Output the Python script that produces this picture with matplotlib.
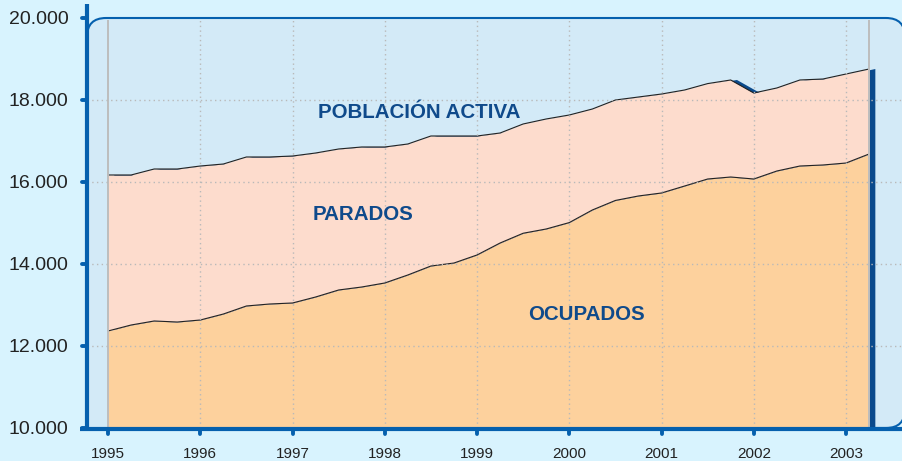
import numpy as np
import matplotlib
matplotlib.use('Agg')
import matplotlib.pyplot as plt
from matplotlib.patches import FancyBboxPatch, Polygon, Rectangle
import matplotlib.transforms as mtransforms

plt.rcParams['font.family'] = ['Liberation Sans', 'DejaVu Sans']

# ---- data (thousands of persons, quarterly 1995-I .. 2003-II) ----
start_year = 1995
n_quarters = 34
ocupados = [12366, 12512, 12610, 12585, 12634, 12780, 12976, 13024, 13049, 13195,
            13366, 13439, 13537, 13732, 13951, 14024, 14220, 14512, 14750, 14854,
            15010, 15317, 15550, 15659, 15732, 15902, 16073, 16122, 16073, 16268,
            16390, 16415, 16463, 16683]
activa = [16171, 16171, 16317, 16317, 16390, 16439, 16610, 16610, 16634, 16707,
          16805, 16854, 16854, 16927, 17122, 17122, 17122, 17195, 17415, 17537,
          17634, 17780, 18000, 18073, 18146, 18244, 18400, 18488, 18171, 18293,
          18488, 18512, 18634, 18756]
year_ticks = [1995, 1996, 1997, 1998, 1999, 2000, 2001, 2002, 2003]
y_ticks = [10000, 12000, 14000, 16000, 18000, 20000]
y_labels = ['10.000', '12.000', '14.000', '16.000', '18.000', '20.000']
labels = ['POBLACIÓN ACTIVA', 'PARADOS', 'OCUPADOS']

x = start_year + np.arange(n_quarters) / 4.0

# ---- colours ----
outer_bg = '#d8f3fe'
plot_bg = '#d3eaf7'
blue = '#0560ae'
dark_blue = '#0a4a8c'
c_ocup = '#fdd19d'
c_par = '#fddccd'
c_text = '#0f4a8b'
grid_c = '#b9b9b9'

W, H = 902, 461
fig = plt.figure(figsize=(W / 100, H / 100), dpi=100, facecolor=outer_bg)
ax = fig.add_axes([87 / W, 33 / H, 815 / W, 410 / H])
ax.set_xlim(1994.772, 2003.607)
ax.set_ylim(10000, 20000)
ax.patch.set_visible(False)
for s in ax.spines.values():
    s.set_visible(False)

# rounded plot frame
frame = FancyBboxPatch((0.87, 0.33), 8.18, 4.10,
                       boxstyle='round,pad=0,rounding_size=0.19',
                       transform=fig.dpi_scale_trans, facecolor=plot_bg,
                       edgecolor=blue, linewidth=1.5, zorder=0, clip_on=False)
ax.add_patch(frame)
# square off the bottom-left corner (hidden behind the axes in the original)
ax.add_patch(Rectangle((0.87, 0.33), 0.3, 0.3, transform=fig.dpi_scale_trans,
                       facecolor=plot_bg, edgecolor='none', zorder=0.5, clip_on=False))

# 3D depth (dark side)
dx = 0.068
verts = [(x[0] + dx, 10000)] + list(zip(x + dx, activa)) + [(x[-1] + dx, 10000)]
ax.add_patch(Polygon(verts, closed=True, facecolor=dark_blue, edgecolor='none', zorder=1))

# areas
ax.fill_between(x, 10000, ocupados, color=c_ocup, linewidth=0, zorder=2)
ax.fill_between(x, ocupados, activa, color=c_par, linewidth=0, zorder=2)
ax.plot(x, ocupados, color='#222222', lw=0.8, zorder=3)
ax.plot(x, activa, color='#222222', lw=0.8, zorder=3)

# gray edges
for xv in (x[0], x[-1]):
    ax.plot([xv, xv], [10000, 19950], color='#bdbdbd', lw=1.4, zorder=3.5,
            solid_capstyle='butt')

# dotted grid
for yr in year_ticks[1:]:
    ax.plot([yr, yr], [10000, 20000], color=grid_c, lw=1.0,
            linestyle=(0, (1, 2.4)), zorder=4)
for yv in y_ticks[1:-1]:
    ax.axhline(yv, color=grid_c, lw=1.0, linestyle=(0, (1, 2.4)), zorder=4)

# axis lines
ax.plot([0, 0], [-0.002, 1.034], transform=ax.transAxes, color=blue, lw=3.0,
        clip_on=False, zorder=6, solid_capstyle='butt')
ax.plot([-0.0086, 1.0], [-0.002, -0.002], transform=ax.transAxes, color=blue, lw=3.0,
        clip_on=False, zorder=6, solid_capstyle='butt')

# manual tick dots
ytr = mtransforms.blended_transform_factory(ax.transAxes, ax.transData)
for yv in y_ticks:
    ax.plot([-0.0065, -0.001], [yv, yv], transform=ytr, color=blue, lw=2.8,
            solid_capstyle='round', clip_on=False, zorder=6)
xtr = mtransforms.blended_transform_factory(ax.transData, ax.transAxes)
for yr in year_ticks:
    ax.plot([yr, yr], [-0.004, -0.014], transform=xtr, color=blue, lw=2.8,
            solid_capstyle='round', clip_on=False, zorder=6)

ax.set_yticks(y_ticks)
ax.set_yticklabels(y_labels)
ax.set_xticks(year_ticks)
ax.set_xticklabels([str(y) for y in year_ticks])
ax.tick_params(axis='y', length=0, pad=13.5, labelsize=14, labelcolor='#222222')
ax.tick_params(axis='x', length=0, pad=14, labelsize=11, labelcolor='#222222')

# series labels
ax.text(1998.371, 17568, labels[0], ha='center', va='baseline', fontsize=14.8,
        fontweight='bold', color=c_text, zorder=7)
ax.text(1997.759, 15061, labels[1], ha='center', va='baseline', fontsize=14.8,
        fontweight='bold', color=c_text, zorder=7)
ax.text(2000.184, 12634, labels[2], ha='center', va='baseline', fontsize=14.8,
        fontweight='bold', color=c_text, zorder=7)

fig.savefig('out.png', dpi=100, facecolor=fig.get_facecolor())
